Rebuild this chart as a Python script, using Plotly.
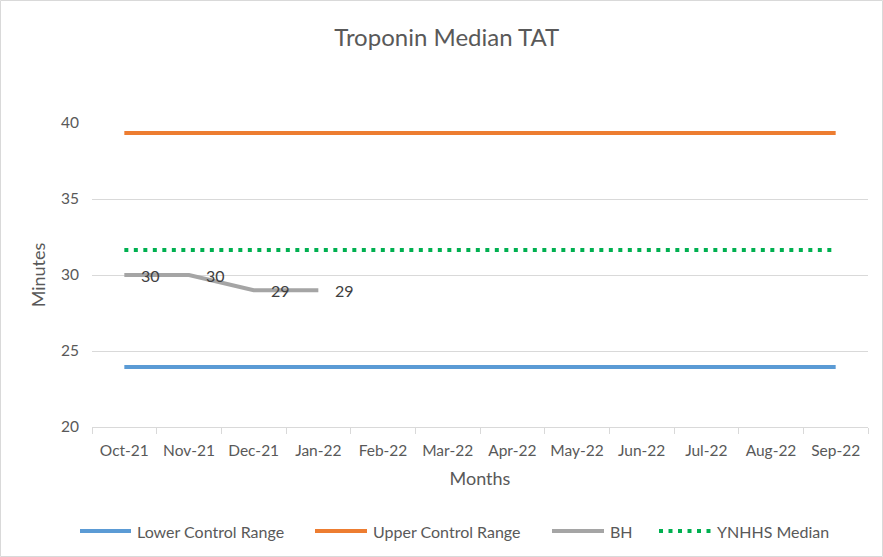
import plotly.graph_objects as go

months = ["Oct-21", "Nov-21", "Dec-21", "Jan-22", "Feb-22", "Mar-22",
          "Apr-22", "May-22", "Jun-22", "Jul-22", "Aug-22", "Sep-22"]
lower_control = [23.95] * 12
upper_control = [39.35] * 12
bh = [30, 30, 29, 29, None, None, None, None, None, None, None, None]
ynhhs_median = [31.65] * 12

series_names = ["Lower Control Range", "Upper Control Range", "BH", "YNHHS Median"]
series_colors = ["#5B9BD5", "#ED7D31", "#A5A5A5", "#00B050"]
series_dash = ["solid", "solid", "solid", "4px,5.5px"]
series_values = [lower_control, upper_control, bh, ynhhs_median]

FONT = "Lato, 'Open Sans', sans-serif"
TXT = "#595959"

L, R, T, B = 92, 15, 123, 130
W, H = 883, 557
pw = W - L - R
ph = H - T - B


def px_x(px):
    return (px - L) / pw


def px_y(py):
    return (H - B - py) / ph


fig = go.Figure()
for name, col, dash, vals in zip(series_names, series_colors, series_dash, series_values):
    fig.add_trace(go.Scatter(x=months, y=vals, name=name, mode="lines",
                             line=dict(color=col, width=4, dash=dash),
                             showlegend=False))

annotations = []
for m, v in zip(months, bh):
    if v is not None:
        annotations.append(dict(x=m, y=v, xref="x", yref="y", text=str(v),
                                showarrow=False, xanchor="left", yanchor="middle",
                                xshift=15, yshift=0,
                                font=dict(size=16, color="#404040", family=FONT)))

# manual legend (Excel style: long line symbols)
leg_y = px_y(531)
line_ranges = [(80, 131), (315, 367), (552, 604), (659, 711)]
shapes = [dict(type="rect", xref="paper", yref="paper",
               x0=px_x(0.5), x1=px_x(W - 0.5), y0=px_y(H - 0.5), y1=px_y(0.5),
               line=dict(color="#D9D9D9", width=1), fillcolor="rgba(0,0,0,0)", layer="below")]
for (x0, x1), name, col, dash in zip(line_ranges, series_names, series_colors, series_dash):
    shapes.append(dict(type="line", xref="paper", yref="paper",
                       x0=px_x(x0), x1=px_x(x1), y0=leg_y, y1=leg_y,
                       line=dict(color=col, width=4, dash=dash)))
    annotations.append(dict(x=px_x(x1 + 4), y=leg_y, xref="paper", yref="paper",
                            text=name, showarrow=False, xanchor="left", yanchor="middle",
                            font=dict(size=16, color=TXT, family=FONT)))

fig.update_layout(
    width=W, height=H,
    margin=dict(l=L, r=R, t=T, b=B, autoexpand=False),
    paper_bgcolor="white", plot_bgcolor="white",
    font=dict(family=FONT, color=TXT, size=15),
    title=dict(text="Troponin Median TAT", x=0.506, xref="container", xanchor="center",
               y=1 - 38 / H, yref="container", yanchor="middle",
               font=dict(size=24, color=TXT, family=FONT)),
    xaxis=dict(type="category", range=[-0.5, len(months) - 0.5], tickson="boundaries",
               ticks="outside", ticklen=6, ticklabelstandoff=9,
               tickcolor="#D9D9D9", showline=True, linecolor="#D9D9D9", linewidth=1,
               showgrid=False, tickfont=dict(size=15.5, color=TXT), automargin=False,
               title=dict(text="Months", font=dict(size=18, color=TXT), standoff=14)),
    yaxis=dict(range=[20, 40], dtick=5, showgrid=True, gridcolor="#D9D9D9",
               zeroline=False, showline=False, tickfont=dict(size=15.5, color=TXT),
               ticks="", ticklabelstandoff=12, automargin=False,
               title=dict(text="Minutes", font=dict(size=18, color=TXT), standoff=10)),
    showlegend=False,
    shapes=shapes,
    annotations=annotations,
)

fig.write_html("out.html", config={"displayModeBar": False},
               post_script="document.body.style.margin='0';document.body.style.overflow='hidden';")
